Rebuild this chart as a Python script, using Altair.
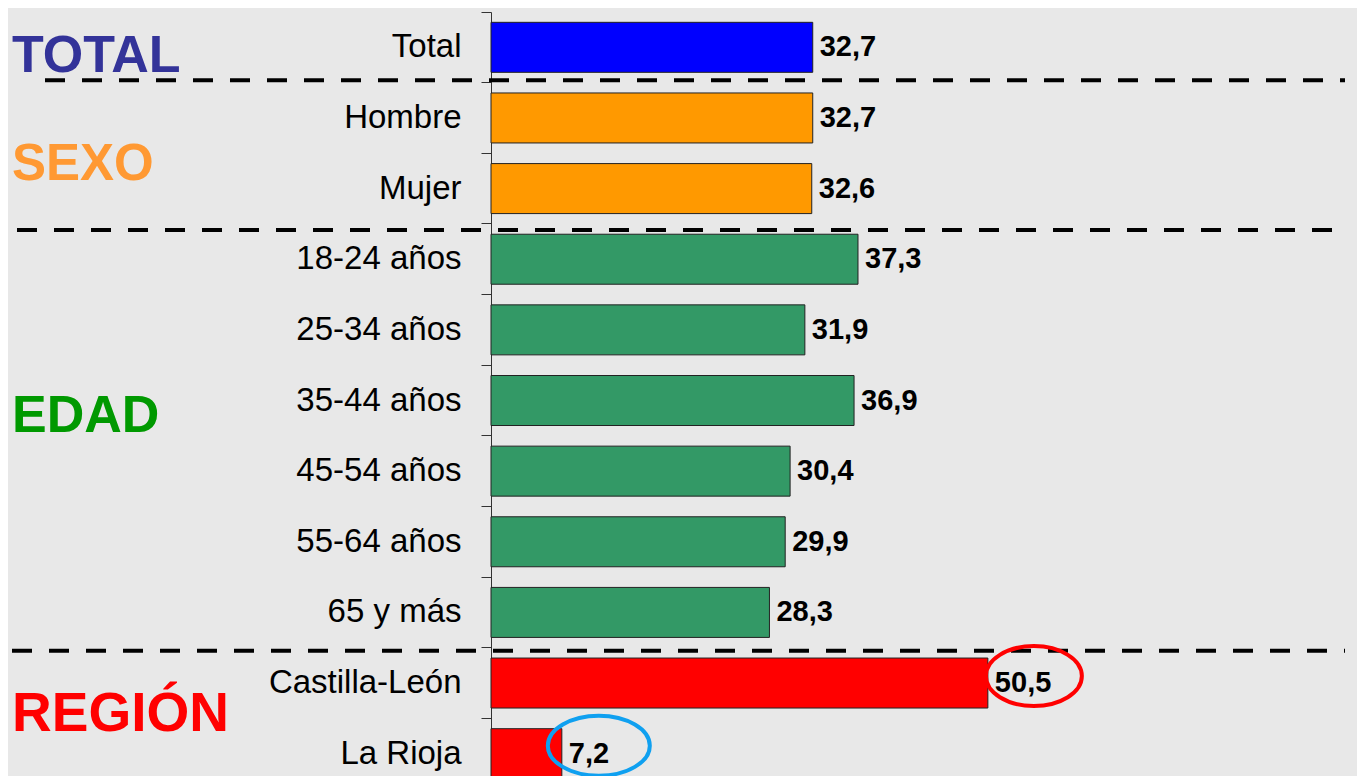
import altair as alt
import pandas as pd

categories = ["Total", "Hombre", "Mujer", "18-24 años", "25-34 años", "35-44 años",
              "45-54 años", "55-64 años", "65 y más", "Castilla-León", "La Rioja"]
values = [32.7, 32.7, 32.6, 37.3, 31.9, 36.9, 30.4, 29.9, 28.3, 50.5, 7.2]
groups = ["TOTAL", "SEXO", "SEXO", "EDAD", "EDAD", "EDAD", "EDAD", "EDAD", "EDAD",
          "REGIÓN", "REGIÓN"]
group_names = ["TOTAL", "SEXO", "EDAD", "REGIÓN"]
bar_colors = ["#0000FF", "#FF9900", "#339966", "#FF0000"]
group_label_colors = ["#333399", "#FF9933", "#009900", "#FF0000"]
separators = ["Total", "18-24 años", "Castilla-León"]
highlighted = ["Castilla-León", "La Rioja"]

df = pd.DataFrame({"cat": categories, "value": values, "group": groups})

FONT = "Liberation Sans"

yscale = alt.Scale(domain=categories, range=[0, 777], paddingInner=0, paddingOuter=0)
yaxis = alt.Axis(title=None, bandPosition=0, tickSize=10, tickWidth=1, labelPadding=20,
                 labelFontSize=33, labelFont=FONT, labelColor="black",
                 domainColor="#333333", tickColor="#333333", labelLimit=400,
                 grid=False)


def Y(band=None):
    if band is None:
        return alt.Y("cat:N", scale=yscale, axis=yaxis)
    return alt.Y("cat:N", scale=yscale, axis=yaxis, bandPosition=band)


xscale = alt.Scale(domain=[0, 87], nice=False, zero=True)

bars = alt.Chart(df).mark_bar(size=50, stroke="#222222", strokeWidth=1).encode(
    y=Y(),
    x=alt.X("value:Q", scale=xscale, axis=None),
    color=alt.Color("group:N", scale=alt.Scale(domain=group_names, range=bar_colors),
                    legend=None),
)

labels = alt.Chart(df).transform_calculate(
    label="replace(format(datum.value, '.1f'), '.', ',')"
).mark_text(align="left", baseline="middle", dx=7, fontSize=29, fontWeight="bold",
            font=FONT, color="black").encode(
    y=Y(),
    x=alt.X("value:Q", scale=xscale, axis=None),
    text="label:N",
)

layers = [bars, labels]

# dashed separators (slightly off the band boundaries, as in the original)
rule_starts = [-446, -474, -479]
rule_bands = [0.965, 0.085, 0.042]
for sep, start, band in zip(separators, rule_starts, rule_bands):
    layers.append(
        alt.Chart(pd.DataFrame({"cat": [sep]})).mark_rule(
            strokeDash=[20, 17], strokeWidth=4, color="black"
        ).encode(y=Y(band), x=alt.value(start), x2=alt.value(854))
    )

# group labels
label_anchor = ["Total", "Mujer", "45-54 años", "La Rioja"]
label_band = [0.5, 0, 0, 0]
label_dy = [9, 12, -20, -4]
label_size = [52, 51, 52, 55]
for name, col, anc, band, dy, fs in zip(group_names, group_label_colors, label_anchor,
                                         label_band, label_dy, label_size):
    layers.append(
        alt.Chart(pd.DataFrame({"cat": [anc], "label": [name]})).mark_text(
            align="left", baseline="middle", dy=dy, fontSize=fs, fontWeight="bold",
            font=FONT, color=col
        ).encode(y=Y(band), x=alt.value(-479), text="label:N")
    )

# highlight ellipses
ellipse_paths = [
    "M -0.042 -0.146 A 1 0.625 0 1 1 1.958 -0.146 A 1 0.625 0 1 1 -0.042 -0.146 Z",
    "M -0.275 -0.157 A 1 0.588 0 1 1 1.725 -0.157 A 1 0.588 0 1 1 -0.275 -0.157 Z",
]
ellipse_sizes = [9216, 10404]
ellipse_colors = ["#FF0000", "#0FA0F0"]
for cat, path, size, col in zip(highlighted, ellipse_paths, ellipse_sizes, ellipse_colors):
    layers.append(
        alt.Chart(df).transform_filter(alt.datum.cat == cat).mark_point(
            shape=path, size=size, filled=False, strokeWidth=4, color=col, opacity=1
        ).encode(y=Y(), x=alt.X("value:Q", scale=xscale, axis=None))
    )

chart = alt.layer(*layers).properties(
    width=856, height=764,
    autosize=alt.AutoSizeParams(type="none"),
    padding={"left": 483, "top": 4, "right": 10, "bottom": 0},
).configure(background="#e8e8e8").configure_view(stroke=None)

chart.save("out.html", embed_options={"renderer": "svg", "actions": False})
